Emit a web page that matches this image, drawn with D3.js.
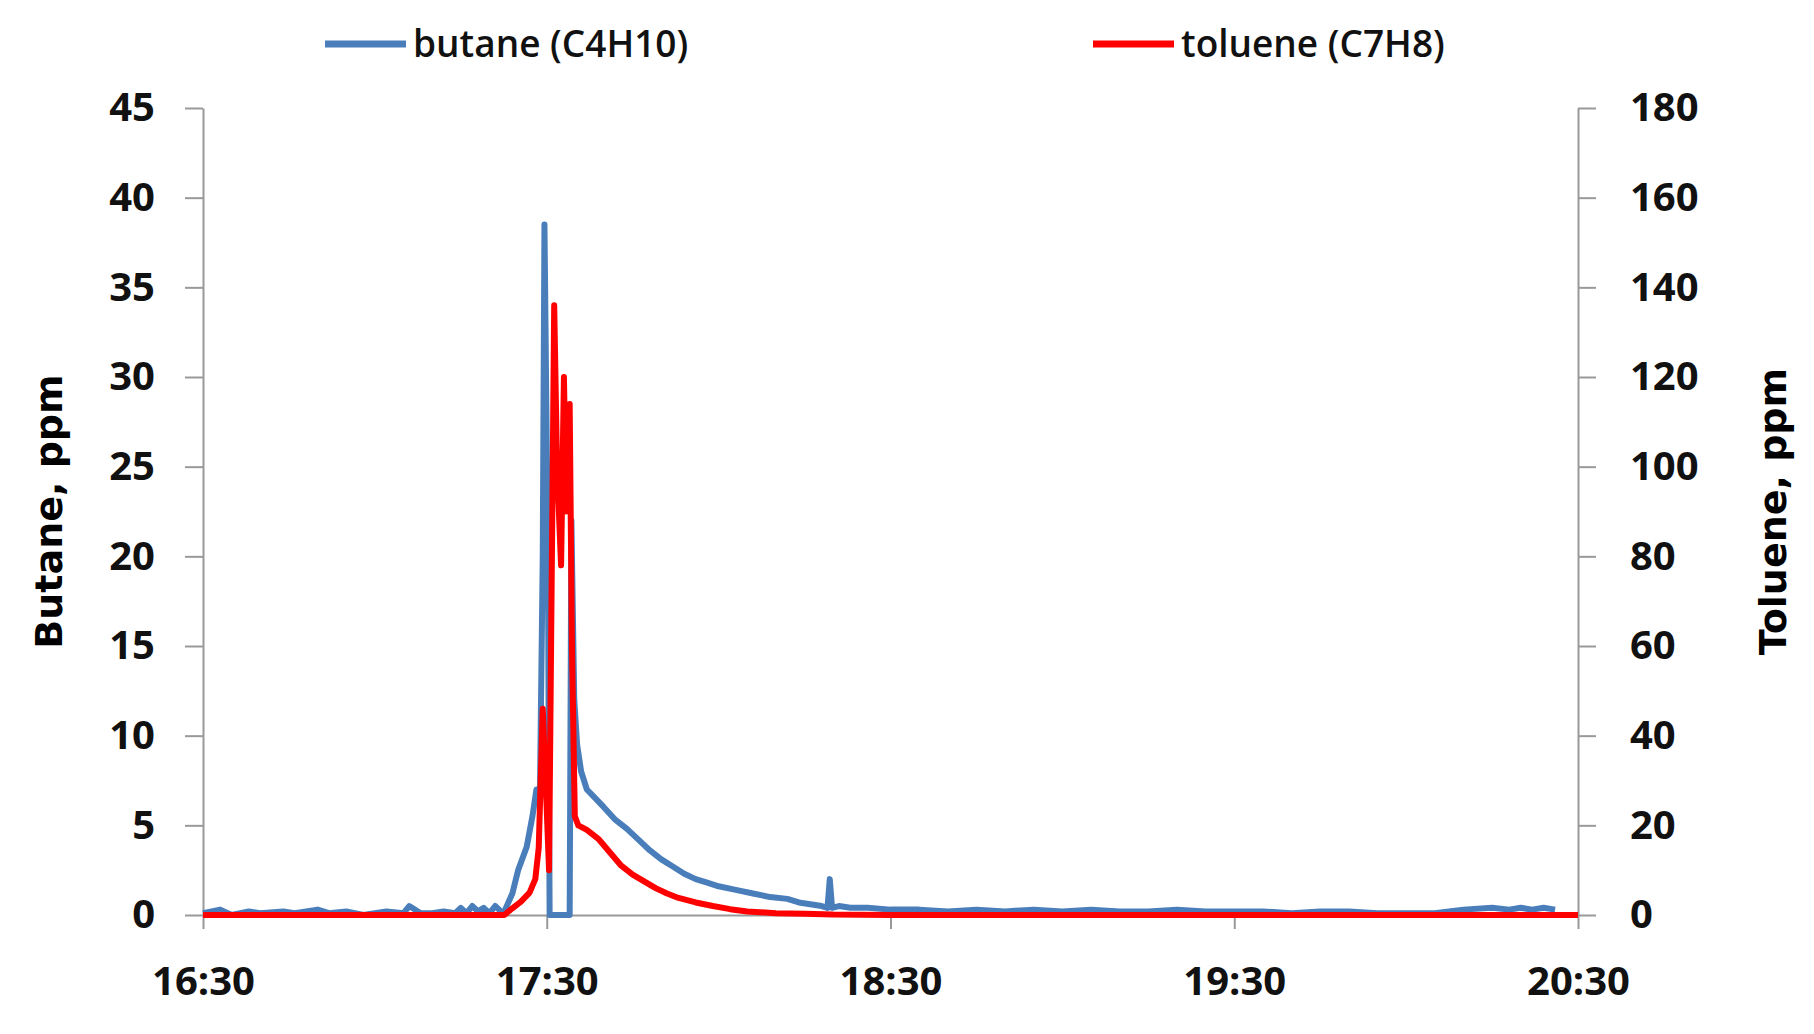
<!DOCTYPE html>
<html><head><meta charset="utf-8">
<script src="https://cdn.jsdelivr.net/npm/d3@7"></script>
<style>body{margin:0;background:#fff}svg{display:block}</style>
</head><body><svg id="c" width="1814" height="1034"></svg>
<script>
// minutes after 16:30
var butaneT = [0,3,5,8,10,14,16,20,22,25,28,30,32,35,36,38,40,42,44,45,46,47,48,49,50,51,52,52.6,54,55,56.5,57.5,58.2,58.8,59.3,59.6,60.2,60.5,64,64.3,64.8,65.3,66,67,68.5,70,72,74,76,78,80,82,84,86,88,90,93,96,99,102,104,106,108,109,109.4,109.8,111,113,116,120,125,130,135,140,145,150,155,160,165,170,175,180,185,190,195,200,205,210,215,220,225,228,230,232,234,236,238,240];
var butaneV = [0.1,0.3,0,0.2,0.1,0.2,0.1,0.3,0.1,0.2,0,0.1,0.2,0.1,0.5,0.1,0.1,0.2,0.1,0.4,0.1,0.5,0.2,0.4,0.1,0.5,0.2,0.2,1.2,2.5,3.8,5.5,7,6.5,20,38.5,20,0,0,22,12,9.5,8,7,6.5,6,5.3,4.8,4.2,3.6,3.1,2.7,2.3,2,1.8,1.6,1.4,1.2,1,0.9,0.7,0.6,0.5,0.4,2,0.4,0.5,0.4,0.4,0.3,0.3,0.2,0.3,0.2,0.3,0.2,0.3,0.2,0.2,0.3,0.2,0.2,0.2,0.1,0.2,0.2,0.1,0.1,0.1,0.3,0.4,0.3,0.4,0.3,0.4,0.3];
var tolueneT = [0,52.6,54,55.5,57,58,58.6,59.3,59.8,60.4,61.3,61.8,62.5,63,63.4,64,64.4,64.9,65.5,67,69,71,73,75,77,79,81,83,86,89,92,95,100,105,110,120,140,160,200,240];
var tolueneV = [0,0,1.5,3,5,8,15,46,30,10,136,100,78,120,90,114,60,22,20,19,17,14,11,9,7.5,6,4.8,3.8,2.8,2,1.3,0.8,0.4,0.3,0.1,0,0,0,0,0];
var leftTicks = [0,5,10,15,20,25,30,35,40,45];
var rightTicks = [0,20,40,60,80,100,120,140,160,180];
var xTicks = [0,60,120,180,240];
var xLabels = ["16:30","17:30","18:30","19:30","20:30"];

(function () {
    var svg = d3.select("#c"),
        left = 203, right = 1578, plotTop = 108, bottom = 915,
        font = "'Open Sans', 'Liberation Sans', sans-serif";

    var x = d3.scaleLinear().domain([0, 240]).range([left, right]),
        yL = d3.scaleLinear().domain([0, 45]).range([bottom, plotTop]),
        yR = d3.scaleLinear().domain([0, 180]).range([bottom, plotTop]);

    function styleAxis(g) {
        g.select(".domain").attr("stroke", "#999").attr("stroke-width", 2);
        g.selectAll(".tick line").attr("stroke", "#999").attr("stroke-width", 2);
        g.selectAll("text").attr("font-family", font).attr("font-weight", "bold")
            .attr("font-size", 40).attr("fill", "#111");
    }

    svg.append("g").attr("transform", "translate(" + left + ",0)")
        .call(d3.axisLeft(yL).tickValues(leftTicks).tickSize(18).tickSizeOuter(0).tickPadding(30))
        .call(styleAxis);
    svg.append("g").attr("transform", "translate(" + right + ",0)")
        .call(d3.axisRight(yR).tickValues(rightTicks).tickSize(18).tickSizeOuter(0).tickPadding(34))
        .call(styleAxis);
    svg.append("g").attr("transform", "translate(0," + bottom + ")")
        .call(d3.axisBottom(x).tickValues(xTicks).tickFormat(function (d, i) { return xLabels[i]; })
            .tickSize(14).tickSizeOuter(0).tickPadding(38))
        .call(styleAxis);

    var lineB = d3.line().x(function (d, i) { return x(butaneT[i]); }).y(function (d) { return yL(d); });
    var lineT = d3.line().x(function (d, i) { return x(tolueneT[i]); }).y(function (d) { return yR(d); });

    svg.append("path").datum(butaneV).attr("d", lineB).attr("fill", "none")
        .attr("stroke", "#4a7ebb").attr("stroke-width", 6).attr("stroke-linejoin", "round");
    svg.append("path").datum(tolueneV).attr("d", lineT).attr("fill", "none")
        .attr("stroke", "#ff0000").attr("stroke-width", 6).attr("stroke-linejoin", "round");

    // axis titles
    svg.append("text").attr("transform", "translate(62," + ((plotTop + bottom) / 2) + ") rotate(-90)")
        .attr("text-anchor", "middle").attr("font-family", "'DejaVu Sans', sans-serif")
        .attr("font-weight", "bold").attr("font-size", 38).text("Butane, ppm");
    svg.append("text").attr("transform", "translate(1786," + ((plotTop + bottom) / 2) + ") rotate(-90)")
        .attr("text-anchor", "middle").attr("font-family", "'DejaVu Sans', sans-serif")
        .attr("font-weight", "bold").attr("font-size", 38).text("Toluene, ppm");

    // legend
    var legend = [
        { name: "butane (C4H10)", color: "#4a7ebb", x: 325 },
        { name: "toluene (C7H8)", color: "#ff0000", x: 1093 }
    ];
    legend.forEach(function (d) {
        svg.append("line").attr("x1", d.x).attr("x2", d.x + 81).attr("y1", 44).attr("y2", 44)
            .attr("stroke", d.color).attr("stroke-width", 7);
        svg.append("text").attr("x", d.x + 88).attr("y", 57).attr("font-family", font)
            .attr("font-weight", 600).attr("font-size", 37).attr("fill", "#111").text(d.name);
    });
})();
</script></body></html>
